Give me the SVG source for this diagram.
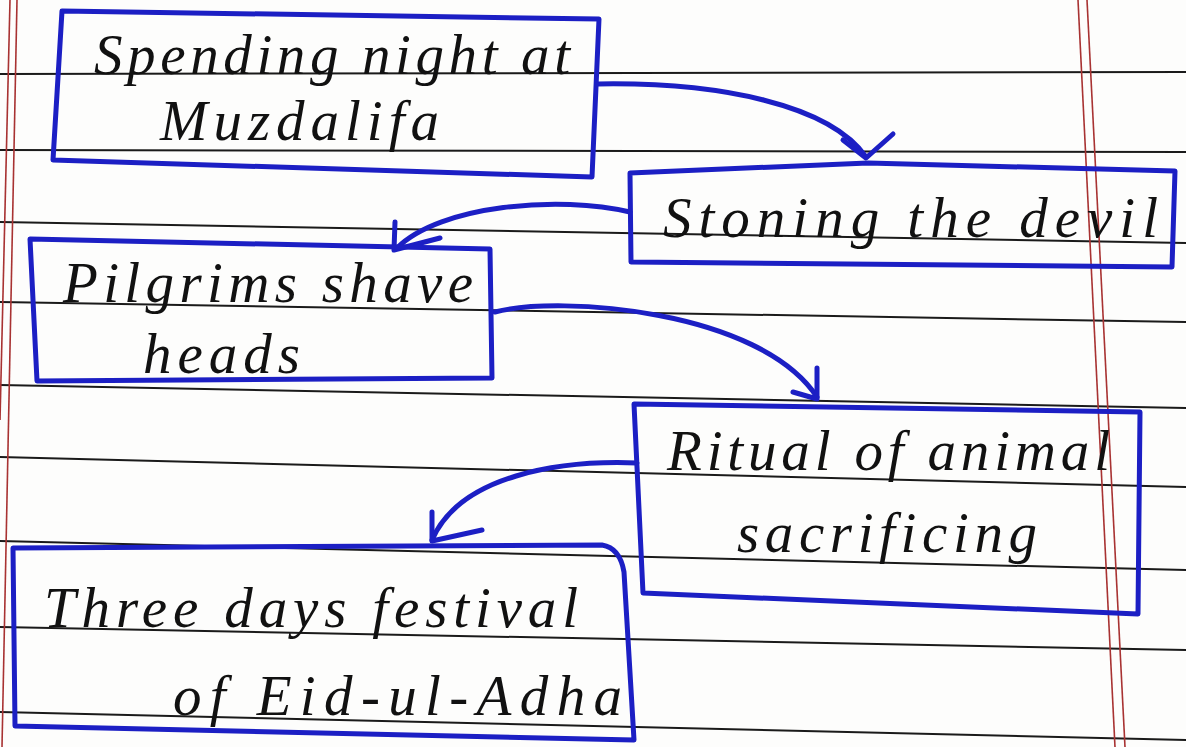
<svg xmlns="http://www.w3.org/2000/svg" width="1186" height="747" viewBox="0 0 1186 747">
<style>
.rule{stroke:#1a1a1a;stroke-width:2;fill:none}
.margin{stroke:#a83232;stroke-width:1.6;fill:none}
.box{fill:none;stroke:#1c1fc4;stroke-width:5;stroke-linejoin:round;stroke-linecap:round}
.conn{fill:none;stroke:#1c1fc4;stroke-width:5;stroke-linecap:round;stroke-linejoin:round}
.t{font-family:"Liberation Serif","DejaVu Serif",serif;font-style:italic;font-size:57px;fill:#111}
</style>
<rect width="1186" height="747" fill="#fdfdfc"/>
<g id="paper">
<path class="rule" d="M0 74 L1186 72"/>
<path class="rule" d="M0 150 L1186 152"/>
<path class="rule" d="M0 222 L1186 243"/>
<path class="rule" d="M0 302 L1186 322"/>
<path class="rule" d="M0 385 L1186 408"/>
<path class="rule" d="M0 457 L1186 487"/>
<path class="rule" d="M0 541 L1186 570"/>
<path class="rule" d="M0 627 L1186 650"/>
<path class="rule" d="M0 712 L1186 740"/>
<path class="margin" d="M10 0 L0 420"/>
<path class="margin" d="M17 0 L2 747"/>
<path class="margin" d="M1078 0 L1115 747"/>
<path class="margin" d="M1087 0 L1125 747"/>
</g>
<g id="connectors">
<path class="conn" d="M598 84 C720 82 830 105 866 157"/>
<path class="conn" d="M843 140 L866 158 L893 134"/>
<path class="conn" d="M630 212 C560 195 440 205 397 248"/>
<path class="conn" d="M395 222 L394 250 L440 238"/>
<path class="conn" d="M495 312 C560 295 760 310 817 397"/>
<path class="conn" d="M817 368 L817 399 M793 392 L817 399"/>
<path class="conn" d="M637 463 C560 460 460 475 432 540"/>
<path class="conn" d="M432 512 L432 541 L482 530"/>
</g>
<g id="node1">
<path class="box" d="M62 11 L599 19 L592 177 L53 160 Z"/>
<text class="t" x="94" y="74" textLength="476" lengthAdjust="spacing">Spending night at</text>
<text class="t" x="160" y="140" textLength="279" lengthAdjust="spacing">Muzdalifa</text>
</g>
<g id="node2">
<path class="box" d="M630 173 L868 163 L1175 171 L1172 267 L631 262 Z"/>
<text class="t" x="663" y="237" textLength="495" lengthAdjust="spacing">Stoning the devil</text>
</g>
<g id="node3">
<path class="box" d="M30 239 L490 249 L492 378 L37 381 Z"/>
<text class="t" x="63" y="302" textLength="410" lengthAdjust="spacing">Pilgrims shave</text>
<text class="t" x="143" y="373" textLength="157" lengthAdjust="spacing">heads</text>
</g>
<g id="node4">
<path class="box" d="M634 404 L1140 412 L1138 614 L643 593 Z"/>
<text class="t" x="667" y="470" textLength="443" lengthAdjust="spacing">Ritual of animal</text>
<text class="t" x="737" y="552" textLength="300" lengthAdjust="spacing">sacrificing</text>
</g>
<g id="node5">
<path class="box" d="M13 548 L602 545 Q620 548 624 572 L634 740 L15 726 Z"/>
<text class="t" x="44" y="627" textLength="534" lengthAdjust="spacing">Three days festival</text>
<text class="t" x="173" y="715" textLength="449" lengthAdjust="spacing">of Eid-ul-Adha</text>
</g>
</svg>
